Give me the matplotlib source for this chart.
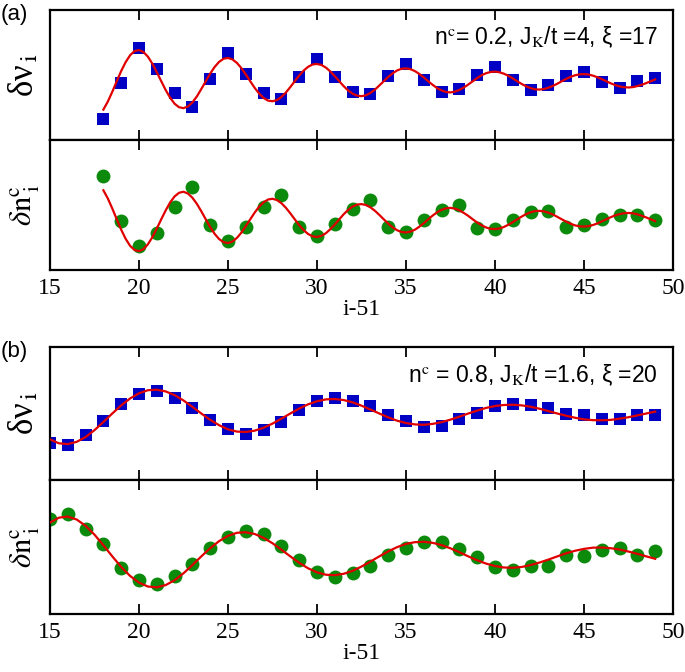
import matplotlib
matplotlib.use("Agg")
import matplotlib.pyplot as plt

plt.rcParams['mathtext.fontset'] = 'stix'

# ---------------- data (normalized display units) ----------------
# panel (a)
xa = list(range(18, 50))
a_nu = [0.164, 0.441, 0.705, 0.544, 0.359, 0.251, 0.472, 0.667, 0.505, 0.359,
        0.313, 0.487, 0.623, 0.482, 0.367, 0.354, 0.495, 0.585, 0.462, 0.372,
        0.392, 0.500, 0.559, 0.459, 0.385, 0.421, 0.495, 0.526, 0.449, 0.403,
        0.451, 0.474]
a_nc = [0.722, 0.379, 0.188, 0.284, 0.485, 0.639, 0.348, 0.224, 0.330, 0.482,
        0.575, 0.330, 0.263, 0.356, 0.472, 0.536, 0.327, 0.291, 0.381, 0.464,
        0.497, 0.322, 0.317, 0.387, 0.446, 0.456, 0.327, 0.343, 0.392, 0.420,
        0.420, 0.381]
xa_fit = [18 + 0.25 * k for k in range(125)]
a_nu_fit = [0.234, 0.296, 0.371, 0.452, 0.531, 0.599, 0.652, 0.684,
            0.692, 0.677, 0.641, 0.587, 0.522, 0.452, 0.384, 0.325,
            0.279, 0.252, 0.245, 0.258, 0.289, 0.335, 0.392, 0.452,
            0.511, 0.562, 0.601, 0.625, 0.631, 0.620, 0.593, 0.553,
            0.504, 0.452, 0.401, 0.357, 0.323, 0.303, 0.298, 0.307,
            0.331, 0.365, 0.407, 0.452, 0.496, 0.534, 0.563, 0.581,
            0.585, 0.577, 0.557, 0.527, 0.491, 0.452, 0.414, 0.381,
            0.356, 0.341, 0.337, 0.344, 0.362, 0.387, 0.419, 0.452,
            0.485, 0.513, 0.535, 0.548, 0.551, 0.545, 0.530, 0.508,
            0.481, 0.452, 0.424, 0.399, 0.381, 0.369, 0.366, 0.372,
            0.385, 0.404, 0.427, 0.452, 0.476, 0.498, 0.514, 0.523,
            0.526, 0.521, 0.510, 0.494, 0.474, 0.452, 0.431, 0.413,
            0.399, 0.390, 0.388, 0.392, 0.402, 0.416, 0.433, 0.452,
            0.470, 0.486, 0.498, 0.505, 0.507, 0.504, 0.495, 0.483,
            0.468, 0.452, 0.436, 0.423, 0.412, 0.406, 0.404, 0.407,
            0.415, 0.425, 0.438, 0.452, 0.466]
a_nc_fit = [0.613, 0.550, 0.473, 0.390, 0.310, 0.240, 0.186, 0.154,
            0.145, 0.160, 0.198, 0.252, 0.319, 0.390, 0.459, 0.520,
            0.566, 0.594, 0.602, 0.588, 0.556, 0.509, 0.452, 0.390,
            0.330, 0.278, 0.238, 0.214, 0.207, 0.219, 0.247, 0.287,
            0.337, 0.390, 0.442, 0.487, 0.521, 0.542, 0.548, 0.538,
            0.514, 0.479, 0.436, 0.390, 0.345, 0.307, 0.277, 0.259,
            0.254, 0.263, 0.283, 0.314, 0.350, 0.390, 0.429, 0.462,
            0.488, 0.503, 0.507, 0.500, 0.482, 0.456, 0.424, 0.390,
            0.357, 0.328, 0.306, 0.292, 0.289, 0.295, 0.310, 0.333,
            0.360, 0.390, 0.419, 0.444, 0.463, 0.475, 0.478, 0.472,
            0.459, 0.439, 0.416, 0.390, 0.365, 0.344, 0.327, 0.317,
            0.315, 0.319, 0.331, 0.348, 0.368, 0.390, 0.411, 0.430,
            0.444, 0.453, 0.455, 0.451, 0.441, 0.427, 0.409, 0.390,
            0.372, 0.356, 0.343, 0.336, 0.334, 0.337, 0.346, 0.358,
            0.374, 0.390, 0.406, 0.420, 0.430, 0.437, 0.439, 0.436,
            0.428, 0.417, 0.404, 0.390, 0.376]

# panel (b)
xb = list(range(15, 50))
b_nu = [0.281, 0.264, 0.336, 0.443, 0.575, 0.649, 0.667, 0.617, 0.542, 0.450,
        0.381, 0.343, 0.373, 0.435, 0.525, 0.592, 0.617, 0.597, 0.555, 0.488,
        0.443, 0.400, 0.405, 0.455, 0.505, 0.560, 0.575, 0.562, 0.542, 0.493,
        0.488, 0.460, 0.455, 0.485, 0.488]
b_nc = [0.710, 0.744, 0.635, 0.521, 0.342, 0.251, 0.226, 0.280, 0.375, 0.491,
        0.573, 0.623, 0.596, 0.511, 0.404, 0.313, 0.275, 0.305, 0.355, 0.442,
        0.491, 0.541, 0.536, 0.484, 0.429, 0.350, 0.330, 0.360, 0.360, 0.437,
        0.434, 0.474, 0.496, 0.437, 0.467]
xb_fit = [15 + 0.5 * k for k in range(69)]
b_nu_fit = [0.305, 0.276, 0.270, 0.287, 0.323, 0.375, 0.436, 0.500, 0.561, 0.613,
            0.652, 0.675, 0.679, 0.666, 0.638, 0.598, 0.550, 0.500, 0.452, 0.412,
            0.381, 0.364, 0.361, 0.371, 0.393, 0.424, 0.461, 0.500, 0.537, 0.569,
            0.592, 0.606, 0.609, 0.601, 0.584, 0.559, 0.530, 0.500, 0.471, 0.446,
            0.428, 0.418, 0.415, 0.422, 0.435, 0.454, 0.476, 0.500, 0.522, 0.542,
            0.556, 0.564, 0.566, 0.561, 0.551, 0.536, 0.518, 0.500, 0.483, 0.468,
            0.456, 0.450, 0.449, 0.452, 0.461, 0.472, 0.486, 0.500, 0.514]
b_nc_fit = [0.682, 0.719, 0.727, 0.705, 0.658, 0.592, 0.513, 0.430, 0.351, 0.284,
            0.234, 0.205, 0.199, 0.216, 0.252, 0.304, 0.365, 0.430, 0.491, 0.544,
            0.583, 0.606, 0.610, 0.597, 0.568, 0.528, 0.480, 0.430, 0.382, 0.341,
            0.311, 0.293, 0.290, 0.300, 0.322, 0.354, 0.391, 0.430, 0.467, 0.499,
            0.523, 0.536, 0.539, 0.531, 0.514, 0.490, 0.461, 0.430, 0.401, 0.376,
            0.358, 0.347, 0.345, 0.351, 0.365, 0.384, 0.406, 0.430, 0.453, 0.472,
            0.486, 0.495, 0.496, 0.491, 0.481, 0.466, 0.449, 0.430, 0.412]

xticks = [15, 20, 25, 30, 35, 40, 45, 50]
label_a = r'n$^{\rm c}$= 0.2, J$_{\rm K}$/t =4, ξ =17'
label_b = r'n$^{\rm c}$ = 0.8, J$_{\rm K}$/t =1.6, ξ =20'

# ---------------- figure ----------------
W, H = 685, 672
fig = plt.figure(figsize=(W / 100, H / 100), dpi=100)

def px_axes(top, bottom, left=50, right=673):
    return fig.add_axes([left / W, 1 - bottom / H, (right - left) / W, (bottom - top) / H])

blue = '#0000c4'
green = '#0b8a0b'
red = '#e00000'

def style(ax, show_labels):
    ax.set_xlim(15, 50)
    ax.set_ylim(0, 1)
    ax.set_yticks([])
    ax.set_xticks(xticks)
    ax.tick_params(axis='x', direction='in', top=True, bottom=True, length=7, width=1.3,
                   labelbottom=show_labels, labelsize=17, pad=6)
    for s in ax.spines.values():
        s.set_linewidth(1.6)
    if show_labels:
        for t in ax.get_xticklabels():
            t.set_fontfamily('Liberation Serif')
        ax.set_xlabel('i-51', fontsize=17, fontfamily='Liberation Serif', labelpad=0)

panels = [
    (10, 140, 270, xa, a_nu, a_nc, xa_fit, a_nu_fit, a_nc_fit, label_a, '(a)', 4),
    (347, 480, 614, xb, b_nu, b_nc, xb_fit, b_nu_fit, b_nc_fit, label_b, '(b)', 341),
]
for (top, mid, bot, x, nu, nc, xf, nuf, ncf, lab, tag, tagy) in panels:
    ax1 = px_axes(top, mid)
    ax2 = px_axes(mid, bot)
    ax1.plot(x, nu, 's', color=blue, markersize=8, markeredgewidth=0, zorder=2)
    ax1.plot(xf, nuf, '-', color=red, lw=1.6, zorder=3)
    ax2.plot(x, nc, 'o', color=green, markersize=10, markeredgewidth=0, zorder=2)
    ax2.plot(xf, ncf, '-', color=red, lw=1.6, zorder=3)
    style(ax1, False)
    style(ax2, True)
    ax1.set_ylabel(r'δν$_{\,\rm i}$', fontsize=25, fontfamily='Liberation Serif', labelpad=6)
    ax2.set_ylabel(r'$\delta{\rm n}^{\rm c}_{\ \rm i}$', fontsize=22, labelpad=6)
    ax1.text(0.975, 0.79, lab, transform=ax1.transAxes, ha='right', va='center',
             fontsize=16.5, fontfamily='Liberation Sans')
    fig.text(1 / W, 1 - tagy / H, tag, ha='left', va='top', fontsize=16,
             fontfamily='Liberation Sans')

fig.savefig('out.png', dpi=100)
